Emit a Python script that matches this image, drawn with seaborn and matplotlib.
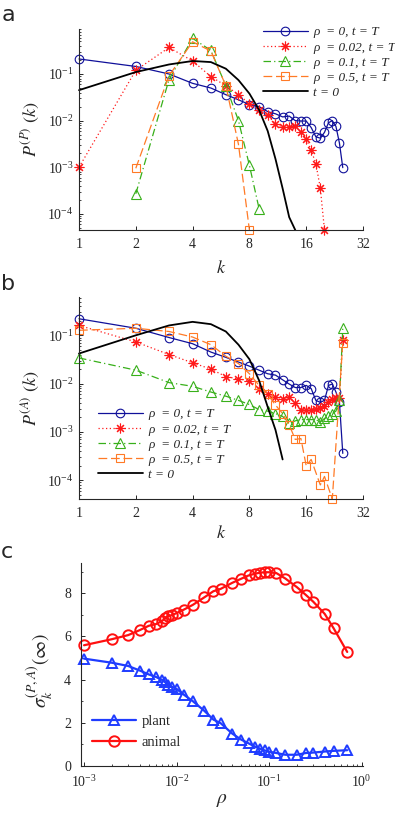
import matplotlib
matplotlib.use('Agg')
import matplotlib.pyplot as plt
import seaborn as sns
from matplotlib.ticker import NullLocator, LogLocator, FixedLocator, NullFormatter

# ---------------------------------------------------------
# data
# ---------------------------------------------------------
# panel a: plant degree distribution P^(P)(k)
k_a_rho0 = list(range(1, 26))
p_a_rho0 = [0.21, 0.145, 0.10, 0.063, 0.05, 0.036, 0.028, 0.022, 0.020, 0.0156,
            0.014, 0.012, 0.0125, 0.010, 0.0098, 0.0098, 0.0071, 0.0045, 0.0042, 0.0056,
            0.0090, 0.0100, 0.0075, 0.0033, 0.00098]
k_a_rho002 = list(range(1, 21))
p_a_rho002 = [0.001, 0.12, 0.37, 0.19, 0.088, 0.056, 0.036, 0.023, 0.017, 0.013,
              0.0085, 0.0072, 0.0072, 0.0078, 0.0056, 0.0041, 0.0023, 0.0012, 0.00036, 0.000045]
k_a_rho01 = [2, 3, 4, 5, 6, 7, 8, 9]
p_a_rho01 = [0.00027, 0.076, 0.58, 0.32, 0.056, 0.010, 0.0011, 0.00013]
k_a_rho05 = [2, 3, 4, 5, 6, 7, 8]
p_a_rho05 = [0.00095, 0.092, 0.49, 0.31, 0.056, 0.0031, 0.000045]
k_a_t0 = list(range(1, 15))
p_a_t0 = [0.045, 0.11, 0.16, 0.19, 0.18, 0.13, 0.074, 0.038, 0.017, 0.006,
          0.0015, 0.00035, 0.000085, 0.000045]

# panel b: animal degree distribution P^(A)(k)
k_b_rho0 = list(range(1, 26))
p_b_rho0 = [0.22, 0.14, 0.09, 0.067, 0.045, 0.035, 0.028, 0.023, 0.019, 0.016,
            0.015, 0.012, 0.0098, 0.0083, 0.0083, 0.0092, 0.0079, 0.0045, 0.0041, 0.0045,
            0.0092, 0.0098, 0.0067, 0.0041, 0.00036]
k_b_rho002 = list(range(1, 26))
p_b_rho002 = [0.16, 0.073, 0.040, 0.027, 0.020, 0.014, 0.0125, 0.0115, 0.0079, 0.0062,
              0.0053, 0.0049, 0.0053, 0.0039, 0.0029, 0.0028, 0.0028, 0.0030, 0.0031, 0.0035,
              0.0042, 0.0047, 0.0050, 0.0050, 0.080]
k_b_rho01 = list(range(1, 26))
p_b_rho01 = [0.034, 0.019, 0.0105, 0.0088, 0.0067, 0.0055, 0.0045, 0.0037, 0.0029, 0.0027,
             0.0024, 0.0021, 0.0015, 0.0017, 0.0018, 0.0018, 0.0018, 0.0018, 0.0016, 0.0019,
             0.0021, 0.0024, 0.0027, 0.0045, 0.14]
k_b_rho05 = [1, 2, 3, 4, 5, 6, 7, 8, 9, 10, 11, 12, 13, 14, 15, 16, 17, 19, 20, 22, 25]
p_b_rho05 = [0.127, 0.14, 0.12, 0.092, 0.064, 0.037, 0.026, 0.016, 0.0092, 0.006,
             0.0036, 0.0024, 0.0014, 0.0007, 0.00073, 0.0002, 0.00027, 0.00008, 0.00012,
             0.000041, 0.070]
k_b_t0 = list(range(1, 13))
p_b_t0 = [0.042, 0.10, 0.16, 0.19, 0.17, 0.12, 0.064, 0.032, 0.0117, 0.0033, 0.0011, 0.00027]

# panel c: sigma_k^(P,A)(inf) vs rho
rho_c = [0.001, 0.002, 0.003, 0.004, 0.005, 0.006, 0.007, 0.0075, 0.008, 0.009, 0.01,
         0.012, 0.015, 0.02, 0.025, 0.03, 0.04, 0.05, 0.06, 0.07, 0.08, 0.09, 0.1,
         0.12, 0.15, 0.2, 0.25, 0.3, 0.4, 0.5, 0.7]
sigma_plant = [4.97, 4.78, 4.63, 4.42, 4.24, 4.12, 3.98, 3.88, 3.77, 3.66, 3.57,
               3.30, 3.00, 2.55, 2.15, 1.98, 1.50, 1.22, 1.05, 0.90, 0.80, 0.72, 0.66,
               0.60, 0.52, 0.52, 0.60, 0.62, 0.67, 0.70, 0.73]
sigma_animal = [5.59, 5.87, 6.06, 6.29, 6.49, 6.57, 6.72, 6.83, 6.93, 6.99, 7.08,
                7.24, 7.46, 7.81, 8.09, 8.20, 8.48, 8.67, 8.82, 8.90, 8.95, 8.97, 8.97,
                8.93, 8.68, 8.28, 7.92, 7.61, 7.04, 6.37, 5.28]

legend_labels = ['ρ  = 0, t = T', 'ρ  = 0.02, t = T', 'ρ  = 0.1, t = T',
                 'ρ  = 0.5, t = T', 't = 0']

# styles
C_NAVY = '#10109a'
C_RED = '#ff1a1a'
C_GREEN = '#38b01a'
C_ORANGE = '#ff7a26'
C_BLACK = '#000000'
STAR = (8, 2, 0)

sns.set_theme(style='ticks')
plt.rcParams['font.family'] = ['Liberation Serif', 'DejaVu Serif']
plt.rcParams['mathtext.fontset'] = 'stix'
plt.rcParams['axes.linewidth'] = 0.8
plt.rcParams['axes.edgecolor'] = '#262626'


def draw(ax, x, y, color, marker, ls, label, ms=6, lw=0.9, mew=0.8):
    sns.lineplot(x=x, y=y, ax=ax, color=color, marker=marker, linestyle=ls,
                 markersize=ms, linewidth=lw, markeredgewidth=mew,
                 markeredgecolor=color, markerfacecolor='none',
                 label=label, errorbar=None, sort=False, clip_on=False)


def style_axes(ax):
    sns.despine(ax=ax)
    ax.tick_params(which='both', direction='in', colors='#262626', labelsize=10)
    ax.tick_params(which='major', length=3, width=0.7)
    ax.tick_params(which='minor', length=1.6, width=0.6)
    ax.tick_params(axis='x', pad=6)
    ax.tick_params(axis='y', pad=4)
    ax.grid(False)


def degree_panel(ax, series, ylim, ylabel, leg_anchor, xlab_y):
    ax.set_xscale('log', base=2)
    ax.set_yscale('log')
    dash_styles = ['-', (0, (1, 2)), (0, (6, 2.5, 1, 2.5)), (0, (7, 3)), '-']
    colors = [C_NAVY, C_RED, C_GREEN, C_ORANGE, C_BLACK]
    markers = ['o', STAR, '^', 's', None]
    sizes = [6.2, 7, 6.5, 6, 0]
    for (x, y), c, m, ls, ms, lab in zip(series, colors, markers, dash_styles, sizes, legend_labels):
        lw = 1.3 if lab == 't = 0' else 0.9
        draw(ax, x, y, c, m, ls, lab, ms=ms, lw=lw)
    ax.set_xlim(1, 32)
    ax.set_ylim(*ylim)
    ax.xaxis.set_major_locator(FixedLocator([1, 2, 4, 8, 16, 32]))
    ax.xaxis.set_minor_locator(NullLocator())
    ax.set_xticklabels(['1', '2', '4', '8', '16', '32'])
    ax.yaxis.set_major_locator(LogLocator(base=10, numticks=10))
    ax.yaxis.set_minor_locator(LogLocator(base=10, subs=range(2, 10), numticks=20))
    ax.yaxis.set_minor_formatter(NullFormatter())
    style_axes(ax)
    ax.set_xlabel('$k$', fontsize=13)
    ax.set_ylabel(ylabel, fontsize=13)
    ax.xaxis.set_label_coords(0.5, xlab_y)
    ax.yaxis.set_label_coords(-0.13, 0.5)
    ax.legend(loc='center left', bbox_to_anchor=leg_anchor, frameon=False,
              prop={'family': 'Liberation Serif', 'style': 'italic', 'size': 9.5},
              handlelength=3.4, handletextpad=0.4, labelspacing=0.22,
              borderaxespad=0, borderpad=0)


fig = plt.figure(figsize=(3.95, 8.16), dpi=100)
ax_a = fig.add_axes([0.2, 0.7181, 0.719, 0.2463])
ax_b = fig.add_axes([0.2, 0.3885, 0.719, 0.2475])
ax_c = fig.add_axes([0.2043, 0.0613, 0.714, 0.2488])

degree_panel(ax_a,
             [(k_a_rho0, p_a_rho0), (k_a_rho002, p_a_rho002), (k_a_rho01, p_a_rho01),
              (k_a_rho05, p_a_rho05), (k_a_t0, p_a_t0)],
             (4.5e-5, 0.92), '$P^{(P)}\\ (k)$', (0.648, 0.833), -0.15)
degree_panel(ax_b,
             [(k_b_rho0, p_b_rho0), (k_b_rho002, p_b_rho002), (k_b_rho01, p_b_rho01),
              (k_b_rho05, p_b_rho05), (k_b_t0, p_b_t0)],
             (4.1e-5, 0.62), '$P^{(A)}\\ (k)$', (0.067, 0.269), -0.13)

# panel c
ax_c.set_xscale('log')
draw(ax_c, rho_c, sigma_plant, '#1f3cff', '^', '-', 'plant', ms=7.5, lw=1.6, mew=1.4)
draw(ax_c, rho_c, sigma_animal, '#ff1010', 'o', '-', 'animal', ms=7.5, lw=1.6, mew=1.4)
ax_c.set_xlim(0.92e-3, 1.03)
ax_c.set_ylim(0, 9.4)
ax_c.xaxis.set_major_locator(LogLocator(base=10, numticks=10))
ax_c.xaxis.set_minor_locator(LogLocator(base=10, subs=range(2, 10), numticks=20))
ax_c.xaxis.set_minor_formatter(NullFormatter())
ax_c.yaxis.set_major_locator(FixedLocator([0, 2, 4, 6, 8]))
ax_c.yaxis.set_minor_locator(FixedLocator([1, 3, 5, 7, 9]))
style_axes(ax_c)
ax_c.tick_params(axis='y', pad=7)
ax_c.set_xlabel('$\\rho$', fontsize=14)
ax_c.set_ylabel('$\\sigma_k^{(P,A)}(\\infty)$', fontsize=14)
ax_c.xaxis.set_label_coords(0.5, -0.13)
ax_c.yaxis.set_label_coords(-0.09, 0.47)
ax_c.legend(loc='center left', bbox_to_anchor=(0.04, 0.168), frameon=False,
            prop={'family': 'Liberation Serif', 'size': 10.5},
            handlelength=3.0, handletextpad=0.4, labelspacing=0.5,
            borderaxespad=0, borderpad=0)

for lab, y in [('a', 0.974), ('b', 0.6446), ('c', 0.316)]:
    fig.text(0.003, y, lab, fontsize=16, family='DejaVu Sans', ha='left', va='baseline')

fig.savefig('out.png', dpi=100)
